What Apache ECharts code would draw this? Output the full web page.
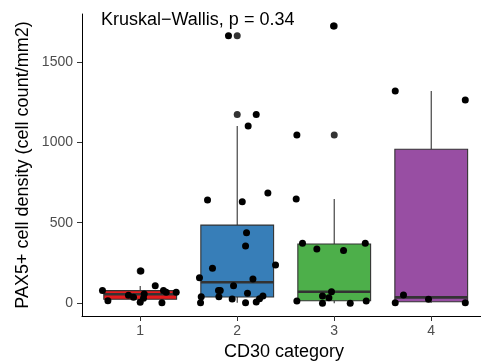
<!DOCTYPE html>
<html>
<head>
<meta charset="utf-8">
<script src="https://cdn.jsdelivr.net/npm/echarts@6/dist/echarts.min.js"></script>
<style>
  html, body { margin: 0; padding: 0; background: #fff; }
  #chart { width: 481px; height: 362px; }
</style>
</head>
<body>
<div id="chart"></div>
<script>
// CD30 categories and their box fill colours
const categories = ['1', '2', '3', '4'];
const boxColors = ['#E41A1C', '#377EB8', '#4DAF4A', '#984EA3'];

// box statistics (whisker low, Q1, median, Q3, whisker high)
const whiskerLow = [2, 2, -2, 2];
const boxQ1 = [23, 37, 14, 8];
const boxMedian = [54, 129, 70, 35];
const boxQ3 = [77, 485, 367, 957];
const whiskerHigh = [106, 1102, 647, 1320];

// outliers drawn by the boxplot (category, value)
const outlierCat = [1, 2, 2, 3, 3];
const outlierVal = [199, 1664, 1174, 1046, 1724];

// jittered points (x is category position with jitter)
const jitterX = [
  0.611, 0.667, 1.007, 0.879, 0.931, 1.0, 1.041, 1.034, 1.155, 1.224, 1.24, 1.268, 1.371,
  1.910, 2.196, 2.113, 1.694, 2.052, 2.316, 2.096, 2.086, 1.745, 1.611, 2.395, 2.162,
  1.962, 1.807, 1.825, 1.629, 1.811, 2.106, 1.948, 1.622, 2.086, 2.196, 2.230, 2.265,
  2.993, 2.615, 2.608, 2.673, 2.821, 3.096, 3.320, 2.972, 2.879, 2.945, 2.615, 2.879, 3.165, 3.330,
  3.629, 4.351, 3.714, 3.972, 3.629, 4.351
];
const jitterY = [
  77, 14, 199, 48, 35, 4, 56, 29, 108, 2, 77, 67, 67,
  1664, 1174, 1102, 641, 630, 685, 438, 355, 216, 157, 237, 149,
  108, 77, 77, 39, 39, 60, 25, 2, 2, 6, 27, 44,
  1724, 1046, 647, 372, 336, 326, 372, 70, 44, 33, 12, -2, -2, 12,
  1320, 1263, 50, 23, 2, 2
];

const yTicks = [0, 500, 1000, 1500];
const xTicks = [1, 2, 3, 4];

const font = 'Liberation Sans, Arial, Helvetica, sans-serif';
const halfBox = 0.375;

const chart = echarts.init(document.getElementById('chart'), null, { renderer: 'canvas' });

const boxData = categories.map((c, i) => [
  i + 1, whiskerLow[i], boxQ1[i], boxMedian[i], boxQ3[i], whiskerHigh[i]
]);

function renderBox(params, api) {
  const x = api.value(0);
  const color = boxColors[params.dataIndex];
  const lt = api.coord([x - halfBox, api.value(4)]);
  const rb = api.coord([x + halfBox, api.value(2)]);
  const top = api.coord([x, api.value(5)]);
  const q3 = api.coord([x, api.value(4)]);
  const q1 = api.coord([x, api.value(2)]);
  const bottom = api.coord([x, api.value(1)]);
  const medL = api.coord([x - halfBox, api.value(3)]);
  const medR = api.coord([x + halfBox, api.value(3)]);
  const lineStyle = { stroke: '#333333', lineWidth: 1.1 };
  return {
    type: 'group',
    children: [
      { type: 'line', shape: { x1: top[0], y1: top[1], x2: q3[0], y2: q3[1] }, style: lineStyle },
      { type: 'line', shape: { x1: q1[0], y1: q1[1], x2: bottom[0], y2: bottom[1] }, style: lineStyle },
      {
        type: 'rect',
        shape: { x: lt[0], y: lt[1], width: rb[0] - lt[0], height: rb[1] - lt[1] },
        style: { fill: color, stroke: '#333333', lineWidth: 1.1 }
      },
      { type: 'line', shape: { x1: medL[0], y1: medL[1], x2: medR[0], y2: medR[1] }, style: { stroke: '#333333', lineWidth: 2.6 } }
    ]
  };
}

const option = {
  animation: false,
  backgroundColor: '#ffffff',
  grid: { left: 82, top: 14, right: 0, height: 302, containLabel: false },
  xAxis: {
    type: 'value',
    min: 0.4,
    max: 4.513,
    splitLine: { show: false },
    axisLine: { show: true, onZero: false, lineStyle: { color: '#000', width: 1 } },
    axisTick: { show: true, length: 5, customValues: xTicks, lineStyle: { color: '#333' } },
    axisLabel: {
      customValues: xTicks,
      margin: 8,
      color: '#4D4D4D',
      fontSize: 14,
      fontFamily: font,
      formatter: v => categories[Math.round(v) - 1]
    }
  },
  yAxis: {
    type: 'value',
    min: -81,
    max: 1799,
    splitLine: { show: false },
    axisLine: { show: true, onZero: false, lineStyle: { color: '#000', width: 1 } },
    axisTick: { show: true, length: 5, customValues: yTicks, lineStyle: { color: '#333' } },
    axisLabel: {
      customValues: yTicks,
      margin: 9,
      color: '#4D4D4D',
      fontSize: 14,
      fontFamily: font,
      formatter: v => String(v)
    }
  },
  graphic: [
    {
      type: 'text', left: 101, top: 11,
      style: { text: 'Kruskal\u2212Wallis, p = 0.34', fontSize: 18, fontFamily: font, fill: '#000' }
    },
    {
      type: 'text', x: 284, y: 352,
      style: { text: 'CD30 category', fontSize: 18, fontFamily: font, fill: '#000', align: 'center', verticalAlign: 'middle' }
    },
    {
      type: 'text', x: 23, y: 165, rotation: Math.PI / 2,
      style: { text: 'PAX5+ cell density (cell count/mm2)', fontSize: 18, fontFamily: font, fill: '#000', align: 'center', verticalAlign: 'middle' }
    }
  ],
  series: [
    {
      type: 'custom',
      renderItem: renderBox,
      data: boxData,
      encode: { x: 0, y: [1, 2, 3, 4, 5] },
      z: 1
    },
    {
      type: 'scatter',
      data: outlierCat.map((c, i) => [c, outlierVal[i]]),
      symbolSize: 7,
      itemStyle: { color: '#333333', opacity: 1 },
      z: 2
    },
    {
      type: 'scatter',
      data: jitterX.map((x, i) => [x, jitterY[i]]),
      symbolSize: 7,
      itemStyle: { color: '#000000', opacity: 1 },
      z: 3
    }
  ]
};

chart.setOption(option);
</script>
</body>
</html>
